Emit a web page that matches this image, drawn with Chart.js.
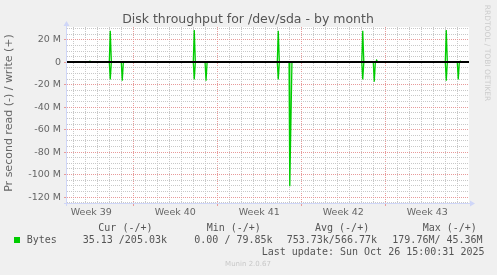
<!DOCTYPE html>
<html>
<head>
<meta charset="utf-8">
<title>Disk throughput for /dev/sda - by month</title>
<script src="https://cdn.jsdelivr.net/npm/chart.js@4.4.1/dist/chart.umd.min.js"></script>
<style>
  html, body { margin: 0; padding: 0; background: #f0f0f0; }
  canvas { display: block; }
</style>
</head>
<body>
<canvas id="diskChart" width="497" height="275"></canvas>
<script>
// x = days since Mon 22 Sep 2025 00:00, y = MB per second (read negative, write positive)
const readDays = [1.48, 5.00, 5.08, 5.17, 6.00, 6.08, 6.17, 12.00, 12.08, 12.17, 12.98, 13.06, 13.15,
    19.00, 19.08, 19.17, 19.98, 20.04, 20.22, 26.04, 26.12, 26.21, 27.00, 27.08, 27.17,
    33.00, 33.08, 33.17, 34.00, 34.08, 34.17, 34.97];
const readValues = [0, 0, -15.2, 0, 0, -16.4, 0, 0, -15.2, 0, 0, -16.4, 0,
    0, -15.2, 0, 0, -110.4, 0, 0, -15.2, 0, 0, -17.3, 0,
    0, -16.4, 0, 0, -15.2, 0, 0];

const writeDays = [1.48, 3.30, 3.39, 3.47, 5.00, 5.08, 5.17, 5.29, 5.37, 12.00, 12.08, 12.17,
    19.00, 19.08, 19.17, 26.04, 26.12, 26.21, 27.20, 27.28, 27.37,
    33.00, 33.08, 33.17, 34.17, 34.25, 34.33, 34.97];
const writeValues = [0, 0, 1.0, 0, 0, 28.0, 0.5, 0.5, 0, 0, 28.8, 0,
    0, 28.0, 0, 0, 28.0, 0, 0, 1.8, 0,
    0, 28.8, 0, 0, 0.9, 0, 0];

const weekStarts = [7, 14, 21, 28];
const weekCenters = [3.5, 10.5, 17.5, 24.5, 31.5];
const weekLabels = ["Week 39", "Week 40", "Week 41", "Week 42", "Week 43"];

const yMajor = [20, 0, -20, -40, -60, -80, -100, -120];
const yMajorLabels = ["20 M", "0", "-20 M", "-40 M", "-60 M", "-80 M", "-100 M", "-120 M"];

const legendHeads = ["Cur (-/+)", "Min (-/+)", "Avg (-/+)", "Max (-/+)"];
const legendValues = ["35.13 /205.03k", "0.00 / 79.85k", "753.73k/566.77k", "179.76M/ 45.36M"];

const GREY = "#c8c8c8";
const RED = "#e89a9a";
const NONE = "rgba(0,0,0,0)";
const AXIS = "#cfd6f8";

//background, zero line, axes and all the rrdtool texts
const muninLook = {
    id: "muninLook",
    beforeDraw(chart) {
        const {ctx, chartArea: a} = chart;
        ctx.save();
        ctx.fillStyle = "#f0f0f0";
        ctx.fillRect(0, 0, chart.width, chart.height);
        ctx.fillStyle = "#ffffff";
        ctx.fillRect(a.left, a.top, a.right - a.left, a.bottom - a.top);
        ctx.restore();
    },
    afterDatasetsDraw(chart) {
        const {ctx, chartArea: a, scales} = chart;
        const y0 = Math.round(scales.y.getPixelForValue(0));
        ctx.save();
        ctx.strokeStyle = "#000000";
        ctx.lineWidth = 2;
        ctx.beginPath();
        ctx.moveTo(a.left, y0);
        ctx.lineTo(a.right, y0);
        ctx.stroke();

        const ax = a.left - 0.5;
        const ay = a.bottom + 0.5;
        ctx.strokeStyle = AXIS;
        ctx.lineWidth = 1;
        ctx.beginPath();
        ctx.moveTo(ax, a.bottom + 3);
        ctx.lineTo(ax, a.top - 2);
        ctx.moveTo(a.left - 3, ay);
        ctx.lineTo(a.right + 2, ay);
        ctx.stroke();
        ctx.fillStyle = AXIS;
        ctx.beginPath();
        ctx.moveTo(ax - 3, a.top - 1);
        ctx.lineTo(ax + 3, a.top - 1);
        ctx.lineTo(ax, a.top - 6);
        ctx.closePath();
        ctx.fill();
        ctx.beginPath();
        ctx.moveTo(a.right + 1, ay - 3);
        ctx.lineTo(a.right + 1, ay + 3);
        ctx.lineTo(a.right + 6, ay);
        ctx.closePath();
        ctx.fill();
        ctx.restore();
    },
    afterDraw(chart) {
        const ctx = chart.ctx;
        ctx.save();
        ctx.textBaseline = "middle";

        //title
        ctx.fillStyle = "#555555";
        ctx.textAlign = "center";
        ctx.font = "12.5px 'DejaVu Sans'";
        ctx.fillText("Disk throughput for /dev/sda - by month", 248, 19.5);

        //vertical label
        ctx.save();
        ctx.translate(9.5, 113);
        ctx.rotate(-Math.PI / 2);
        ctx.font = "11px 'DejaVu Sans'";
        ctx.fillStyle = "#666666";
        ctx.fillText("Pr second read (-) / write (+)", 0, 0);
        ctx.restore();

        //watermark
        ctx.save();
        ctx.translate(487, 53);
        ctx.rotate(Math.PI / 2);
        ctx.font = "7.5px 'DejaVu Sans'";
        ctx.fillStyle = "#cccccc";
        ctx.fillText("RRDTOOL / TOBI OETIKER", 0, 0);
        ctx.restore();

        //legend
        ctx.textAlign = "left";
        ctx.font = "10px 'DejaVu Sans Mono'";
        ctx.fillStyle = "#555555";
        const headX = [98.3, 206.7, 315, 422.7];
        const valX = [82.7, 194.3, 286.7, 392.3];
        legendHeads.forEach((t, i) => ctx.fillText(t, headX[i], 228));
        ctx.fillText("Bytes", 26.7, 240);
        legendValues.forEach((t, i) => ctx.fillText(t, valX[i], 240));
        ctx.fillText("Last update: Sun Oct 26 15:00:31 2025", 261.7, 252);
        ctx.fillStyle = "#00cc00";
        ctx.fillRect(14, 237, 6, 6);

        ctx.textAlign = "center";
        ctx.font = "7px 'DejaVu Sans'";
        ctx.fillStyle = "#c8c8c8";
        ctx.fillText("Munin 2.0.67", 248, 264.5);
        ctx.restore();
    }
};

const toPoints = (days, vals) => days.map((d, i) => ({x: d, y: vals[i]}));

new Chart(document.getElementById("diskChart"), {
    type: "line",
    data: {
        datasets: [{
            label: "read",
            data: toPoints(readDays, readValues),
            borderColor: "#00cc00",
            borderWidth: 1.3,
            pointRadius: 0,
            tension: 0,
            fill: false
        }, {
            label: "write",
            data: toPoints(writeDays, writeValues),
            borderColor: "#00cc00",
            borderWidth: 1.3,
            pointRadius: 0,
            tension: 0,
            fill: false
        }]
    },
    options: {
        responsive: false,
        animation: false,
        devicePixelRatio: 1,
        layout: {padding: {top: 27, right: 28, bottom: 0, left: 0}},
        plugins: {legend: {display: false}, tooltip: {enabled: false}},
        scales: {
            x: {
                type: "linear",
                min: 1.475,
                max: 34.975,
                afterBuildTicks(s) {
                    const t = [];
                    for (let d = 2; d <= 34; d++) t.push(d);
                    s.ticks = t.concat(weekCenters).sort((p, q) => p - q).map(v => ({value: v}));
                },
                afterFit(s) { s.height = 72; },
                grid: {
                    lineWidth: 1,
                    tickLength: 3,
                    color: c => weekCenters.includes(c.tick.value) ? NONE : (weekStarts.includes(c.tick.value) ? RED : GREY),
                    tickColor: c => weekStarts.includes(c.tick.value) ? RED : NONE
                },
                border: {display: false, dash: [1, 1]},
                ticks: {
                    autoSkip: false,
                    maxRotation: 0,
                    padding: 1,
                    color: "#666666",
                    font: {family: "DejaVu Sans", size: 9.5},
                    callback: v => {
                        const i = weekCenters.indexOf(v);
                        return i < 0 ? "" : weekLabels[i];
                    }
                }
            },
            y: {
                min: -125.3,
                max: 31.4,
                afterBuildTicks(s) {
                    const t = [];
                    for (let v = -125; v <= 30; v += 5) t.push({value: v});
                    s.ticks = t;
                },
                afterFit(s) { s.width = 67; },
                grid: {
                    lineWidth: 1,
                    tickLength: 3,
                    color: c => c.tick.value % 20 === 0 ? RED : GREY,
                    tickColor: c => c.tick.value % 20 === 0 ? RED : NONE
                },
                border: {display: false, dash: [1, 1]},
                ticks: {
                    autoSkip: false,
                    padding: 3,
                    color: "#666666",
                    font: {family: "DejaVu Sans", size: 9.5},
                    callback: v => {
                        const i = yMajor.indexOf(v);
                        return i < 0 ? "" : yMajorLabels[i];
                    }
                }
            }
        }
    },
    plugins: [muninLook]
});
</script>
</body>
</html>
